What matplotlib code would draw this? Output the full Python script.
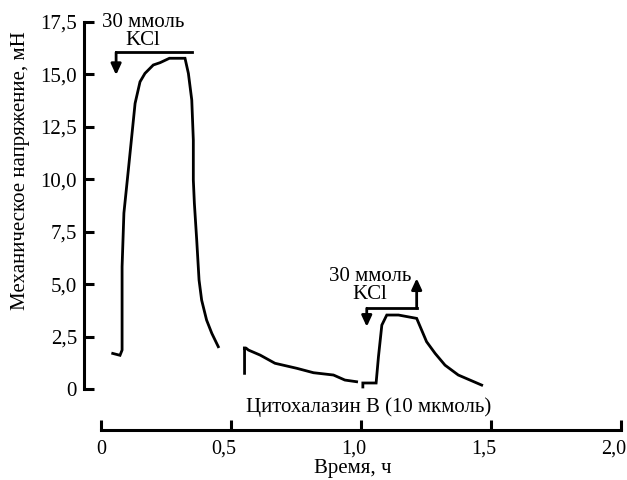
import matplotlib.pyplot as plt
from matplotlib.transforms import ScaledTranslation

plt.rcParams["font.family"] = ["Liberation Serif", "DejaVu Serif"]

# first KCl contraction (time, h ; tension, mN)
t_kcl1 = [0.045, 0.073, 0.081, 0.081, 0.088, 0.105, 0.131, 0.150, 0.169, 0.201,
          0.227, 0.263, 0.323, 0.336, 0.349, 0.355, 0.355, 0.359, 0.368, 0.377,
          0.387, 0.406, 0.426, 0.451]
f_kcl1 = [1.70, 1.61, 1.86, 5.83, 8.39, 10.44, 13.62, 14.65, 15.05, 15.45,
          15.56, 15.77, 15.77, 15.05, 13.78, 11.87, 9.97, 8.86, 7.11, 5.20,
          4.24, 3.29, 2.66, 2.02]

# relaxation after cytochalasin B
t_cyto = [0.552, 0.552, 0.546, 0.558, 0.567, 0.612, 0.669, 0.753, 0.817, 0.894,
          0.938, 0.983]
f_cyto = [0.75, 1.95, 1.95, 1.95, 1.86, 1.62, 1.23, 0.99, 0.78, 0.67,
          0.43, 0.35]

# second KCl contraction
t_kcl2 = [1.007, 1.007, 1.007, 1.058, 1.067, 1.080, 1.099, 1.144, 1.214, 1.252,
          1.285, 1.323, 1.374, 1.464]
f_kcl2 = [0.10, 0.29, 0.29, 0.29, 1.54, 3.05, 3.53, 3.53, 3.37, 2.26,
          1.70, 1.14, 0.67, 0.19]

# KCl markers: left x, right x, bar level, down-arrow tip, up-arrow tip
kcl_marks = [
    (0.058, 0.350, 16.05, 14.97, 17.55),
    (1.022, 1.214, 3.85, 2.97, 5.28),
]
kcl_text_pos = [(0.162, 17.05), (1.035, 4.95)]

y_ticks = [0, 2.5, 5.0, 7.5, 10.0, 12.5, 15.0, 17.5]
x_ticks = [0, 0.5, 1.0, 1.5, 2.0]


def comma(v):
    return "0" if v == 0 else f"{v:.1f}".replace(".", ",")


fig = plt.figure(figsize=(6.27, 4.8), dpi=100)
ax = fig.add_axes([0.134, 0.1042, 0.8565, 0.85])

lw = 2.0
for t, f in [(t_kcl1, f_kcl1), (t_cyto, f_cyto), (t_kcl2, f_kcl2)]:
    ax.plot(t, f, color="black", lw=lw, solid_joinstyle="miter")

head = "-|>,head_length=0.65,head_width=0.3"
for (xl, xr, bar, tip_dn, tip_up), (tx, ty) in zip(kcl_marks, kcl_text_pos):
    ax.plot([xl, xr], [bar, bar], color="black", lw=lw, solid_capstyle="projecting")
    ax.annotate("", xy=(xl, tip_dn), xytext=(xl, bar),
                arrowprops=dict(arrowstyle=head, color="black", lw=lw,
                                shrinkA=0, shrinkB=0))
    ax.annotate("", xy=(xr, tip_up), xytext=(xr, bar),
                arrowprops=dict(arrowstyle=head, color="black", lw=lw,
                                shrinkA=0, shrinkB=0))
    ax.text(tx, ty, "30 ммоль\nKCl", ha="center", va="center", fontsize=15,
            linespacing=0.95, clip_on=False)

ax.text(1.03, -0.84, "Цитохалазин В (10 мкмоль)", ha="center", va="center",
        fontsize=15)

ax.set_xlim(-0.0654, 2.0)
ax.set_ylim(-1.95, 17.5)
for side in ["top", "right"]:
    ax.spines[side].set_visible(False)
ax.spines["left"].set_bounds(0, 17.5)
ax.spines["bottom"].set_bounds(0, 2.0)
ax.spines["left"].set_linewidth(2.2)
ax.spines["bottom"].set_linewidth(2.2)

ax.set_yticks(y_ticks)
ax.set_yticklabels([comma(v) for v in y_ticks])
ax.set_xticks(x_ticks)
ax.set_xticklabels([comma(v) for v in x_ticks])
ax.tick_params(direction="in", length=7, width=2.2, labelsize=15)
ax.tick_params(axis="y", pad=5)
ax.tick_params(axis="x", pad=7, labelsize=14.5)

# decimal labels sit a little left of their ticks
shift = ScaledTranslation(-7 / 100, 0, fig.dpi_scale_trans)
for lab in ax.get_xticklabels():
    if "," in lab.get_text():
        lab.set_transform(lab.get_transform() + shift)

ax.set_ylabel("Механическое напряжение, мН", fontsize=15)
ax.yaxis.set_label_coords(-0.10, 0.635)
ax.set_xlabel("Время, ч", fontsize=15, labelpad=0)

fig.savefig("out.png", dpi=100)
